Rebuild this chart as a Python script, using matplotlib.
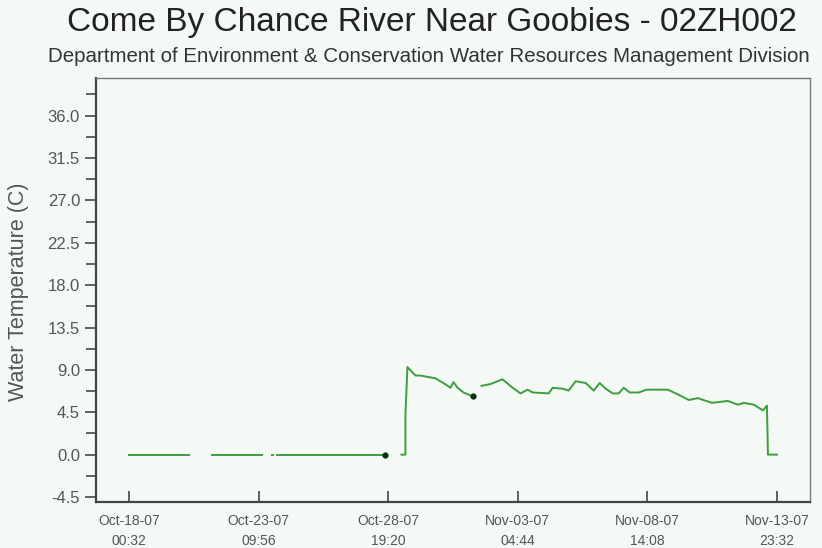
import pandas as pd
import matplotlib
matplotlib.use("Agg")
import matplotlib.pyplot as plt
import matplotlib.dates as mdates
from matplotlib.ticker import FixedLocator
import numpy as np

# hours after Oct-18-07 00:32, water temperature (C)
start = pd.Timestamp("2007-10-18 00:32")

seg1_h = [0, 60]
seg1_v = [0.0, 0.0]
seg2_h = [83, 133]
seg2_v = [0.0, 0.0]
seg3_h = [142.5, 143.5]
seg3_v = [0.0, 0.0]
seg4_h = [148, 256]
seg4_v = [0.0, 0.0]
seg5_h = [272, 276, 276, 278, 286, 291, 301, 306, 314, 321, 324, 328, 334, 343]
seg5_v = [0.0, 0.0, 4.2, 9.3, 8.4, 8.4, 8.2, 8.1, 7.6, 7.1, 7.7, 7.1, 6.6, 6.2]
seg6_h = [352, 361, 373, 383, 391, 398, 403, 419, 423, 433, 439, 446, 456, 464,
          470, 476, 483, 489, 494, 500, 509, 517, 526, 538, 548, 559, 568, 582,
          598, 608, 614, 624, 633, 637, 638, 647]
seg6_v = [7.3, 7.5, 8.0, 7.1, 6.5, 6.9, 6.6, 6.5, 7.1, 7.0, 6.8, 7.8, 7.6, 6.8,
          7.6, 7.0, 6.5, 6.5, 7.1, 6.6, 6.6, 6.9, 6.9, 6.9, 6.4, 5.8, 6.0, 5.5,
          5.7, 5.3, 5.5, 5.3, 4.7, 5.2, 0.0, 0.0]
dot_h = [256, 343]
dot_v = [0.0, 6.2]

tick_times = ["2007-10-18 00:32", "2007-10-23 09:56", "2007-10-28 19:20",
              "2007-11-03 04:44", "2007-11-08 14:08", "2007-11-13 23:32"]
y_ticks = [-4.5, 0.0, 4.5, 9.0, 13.5, 18.0, 22.5, 27.0, 31.5, 36.0]


def to_time(hours):
    return start + pd.to_timedelta(hours, unit="h")


bg = "#f4f9f6"
line_color = "#3c9e3c"
font = "Liberation Sans"

fig = plt.figure(figsize=(8.22, 5.48), dpi=100, facecolor=bg)
ax = fig.add_axes([96 / 822, 1 - 501.7 / 548, 714 / 822, (501.7 - 78) / 548])
ax.set_facecolor(bg)

for h, v in [(seg1_h, seg1_v), (seg2_h, seg2_v), (seg3_h, seg3_v),
             (seg4_h, seg4_v), (seg5_h, seg5_v), (seg6_h, seg6_v)]:
    ax.plot(to_time(h), v, color=line_color, lw=1.4, solid_joinstyle="round")
ax.plot(to_time(dot_h), dot_v, "o", color="#0b300b", ms=4.5, mec="none")

ticks = pd.to_datetime(tick_times)
ax.set_xlim(ticks[0] - pd.Timedelta(hours=33), ticks[-1] + pd.Timedelta(hours=33))
ax.set_ylim(-5, 40)

ax.xaxis.set_major_locator(FixedLocator(mdates.date2num(ticks)))
ax.set_xticklabels([t.strftime("%b-%d-%y\n%H:%M") for t in ticks])
ax.set_yticks(y_ticks)
ax.set_yticklabels([f"{t:.1f}" for t in y_ticks])
ax.set_yticks(list(np.array(y_ticks) + 2.25), minor=True)

ax.tick_params(axis="x", direction="in", length=8, width=1.2, color="#444",
               labelsize=10, labelcolor="#555", pad=9)
ax.tick_params(axis="y", which="major", direction="out", length=8, width=1.2,
               color="#444", labelsize=12, labelcolor="#555", pad=3.5)
ax.tick_params(axis="y", which="minor", direction="out", length=7.5, width=1.2,
               color="#444")
for lab in ax.get_xticklabels():
    lab.set_linespacing(1.5)
    lab.set_family(font)
for lab in ax.get_yticklabels():
    lab.set_family(font)

for side in ["left", "bottom"]:
    ax.spines[side].set_color("#444")
    ax.spines[side].set_linewidth(1.6)
for side in ["top", "right"]:
    ax.spines[side].set_color("#777")
    ax.spines[side].set_linewidth(1.0)

ax.set_ylabel("Water Temperature (C)", fontsize=15.5, color="#555", family=font)
ax.yaxis.set_label_coords(-0.094, 0.495)

fig.text(432 / 822, 1 - 22 / 548, "Come By Chance River Near Goobies - 02ZH002",
         ha="center", va="center", fontsize=24, color="#222", family=font)
fig.text(429 / 822, 1 - 57 / 548,
         "Department of Environment & Conservation Water Resources Management Division",
         ha="center", va="center", fontsize=14.8, color="#333", family=font)

fig.savefig("out.png", dpi=100, facecolor=bg)
